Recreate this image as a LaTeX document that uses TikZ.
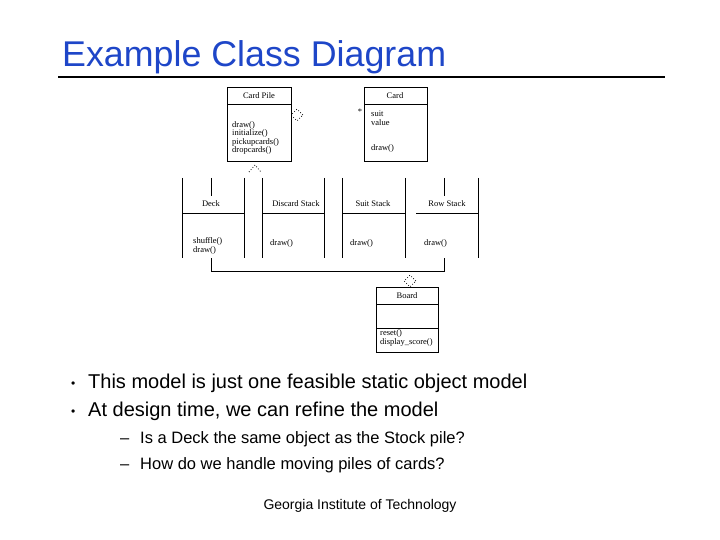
\documentclass[tikz,border=0pt]{standalone}
\usetikzlibrary{shapes.geometric}
\usepackage{fontspec}
\setmainfont{Liberation Sans}
\newfontfamily\umlfont{Liberation Serif}
\definecolor{titleblue}{RGB}{30,70,200}
\begin{document}
\begin{tikzpicture}[x=1pt,y=-1pt,
  ln/.style={line width=0.7pt},
  cls/.style={font=\umlfont\fontsize{8.5}{8.5}\selectfont},
  mt/.style={cls,anchor=west,align=left,inner sep=0pt},
  dia/.style={draw,dotted,thick,diamond,minimum size=12pt,inner sep=0pt},
  bul/.style={anchor=base west,inner sep=0pt,font=\fontsize{20}{22}\selectfont},
  sub/.style={anchor=base west,inner sep=0pt,font=\fontsize{16.5}{19}\selectfont}]
\useasboundingbox (0,0) rectangle (720,540);
\node[anchor=base west,inner sep=0pt,text=titleblue,font=\fontsize{35.8}{40}\selectfont] (title) at (62,67) {Example Class Diagram};
\draw[line width=2pt] (58,77) -- (665,77);
% Card Pile
\draw[ln] (227,87) rectangle (291,161); \draw[ln] (227,104) -- (291,104);
\node[cls] (cp) at (259,96) {Card Pile};
\node[mt] (cpm) at (232,138) {draw()\\initialize()\\pickupcards()\\dropcards()};
\node[dia] (d1) at (297,115) {};
\draw[dotted,thick] (249,172) -- (255,165) -- (261,172);
% Card
\draw[ln] (364,87) rectangle (427,161); \draw[ln] (364,104) -- (427,104);
\node[cls] (c) at (395,96) {Card};
\node[cls] (star) at (360,112) {*};
\node[mt] (cm) at (371,118) {suit\\value};
\node[mt] (cm2) at (371,148) {draw()};
% stacks
\draw[ln] (182,178) -- (182,258); \draw[ln] (244,178) -- (244,258);
\draw[ln] (182,213) -- (244,213);
\node[cls] (deck) at (211,204) {Deck};
\node[mt] (dm) at (193,246) {shuffle()\\draw()};
\draw[ln] (262,178) -- (262,258); \draw[ln] (324,178) -- (324,258);
\draw[ln] (262,213) -- (324,213);
\node[cls] (ds) at (296,204) {Discard Stack};
\node[mt] (dsm) at (270,243) {draw()};
\draw[ln] (342,178) -- (342,258); \draw[ln] (405,178) -- (405,258);
\draw[ln] (342,213) -- (405,213);
\node[cls] (ss) at (373,204) {Suit Stack};
\node[mt] (ssm) at (350,243) {draw()};
\draw[ln] (478,178) -- (478,258);
\draw[ln] (416,213) -- (478,213);
\node[cls] (rs) at (447,204) {Row Stack};
\node[mt] (rsm) at (424,243) {draw()};
\coordinate (dtop) at (211,178); \coordinate (dtb) at (211,196);
\coordinate (rtop) at (444,178); \coordinate (rtb) at (444,196);
\draw[ln] (dtop) -- (dtb); \draw[ln] (rtop) -- (rtb);
\coordinate (db) at (211,258); \coordinate (rb) at (444,258);
\draw[ln] (db) -- (211,271) -- (444,271) -- (rb);
\node[dia] (d2) at (410,281) {};
% Board
\draw[ln] (376,287) rectangle (438,352); \draw[ln] (376,304) -- (438,304); \draw[ln] (376,328) -- (438,328);
\node[cls] (b) at (407,296) {Board};
\node[mt] (bm) at (380,338) {reset()\\display\_score()};
% text
\node[bul,font=\fontsize{12}{14}\selectfont] (b1) at (71,387) {•}; \node[bul] (t1) at (88,388) {This model is just one feasible static object model};
\node[bul,font=\fontsize{12}{14}\selectfont] (b2) at (71,415) {•}; \node[bul] (t2) at (88,416) {At design time, we can refine the model};
\node[sub] (s1) at (120,443) {–}; \node[sub] (u1) at (140,443) {Is a Deck the same object as the Stock pile?};
\node[sub] (s2) at (120,469) {–}; \node[sub] (u2) at (140,469) {How do we handle moving piles of cards?};
\node[inner sep=0pt,anchor=base,font=\fontsize{14}{16}\selectfont] (foot) at (360,509) {Georgia Institute of Technology};
\end{tikzpicture}
\end{document}
